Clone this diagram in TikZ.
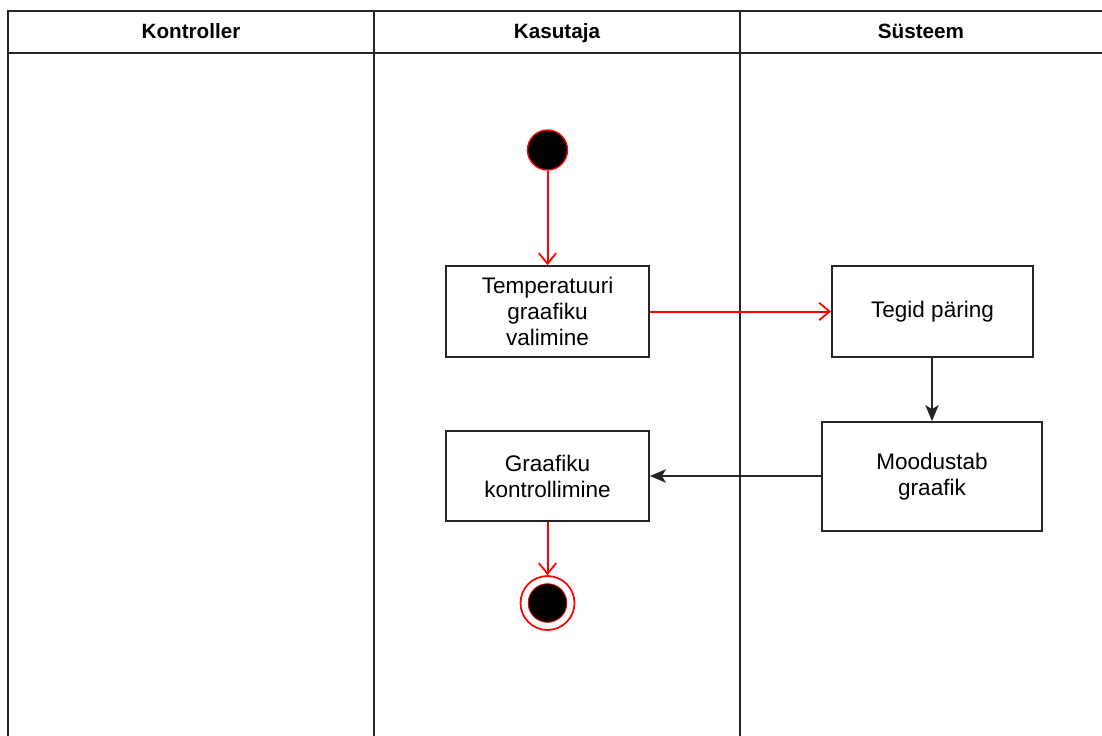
\documentclass[tikz,border=0pt]{standalone}
\usepackage{fontspec}
\setmainfont{Liberation Sans}
\usetikzlibrary{arrows.meta}
\begin{document}
\begin{tikzpicture}[x=0.75pt,y=-0.75pt,
  lane/.style={draw=black!85,line width=1.3pt},
  act/.style={draw=black!85,line width=1.3pt,fill=white,align=center,inner sep=0pt,
    font=\fontsize{16.9}{19.5}\selectfont},
  hdr/.style={anchor=base,font=\bfseries\fontsize{15.5}{19.5}\selectfont},
  redarr/.style={draw=red,line width=1.5pt,-{Straight Barb[length=8pt,width=13pt,line width=1.3pt]}},
  blkarr/.style={draw=black!85,line width=1.3pt,-{Stealth[length=12pt,width=10pt,inset=3pt]}},
  startst/.style={circle,fill=black,draw=red,line width=1pt,minimum size=30pt,inner sep=0pt},
  endo/.style={circle,draw=red,line width=1.3pt,minimum size=40.5pt,inner sep=0pt},
  endi/.style={circle,fill=black,draw=red,line width=0.6pt,minimum size=29pt,inner sep=0pt}]
\useasboundingbox (0,0) rectangle (1102,735);
\clip (0,0) rectangle (1102,735);
\fill[white] (0,0) rectangle (1102,735);
% pool
\draw[lane] (8,11) rectangle (374,760);
\draw[lane] (374,11) rectangle (740,760);
\draw[lane] (740,11) rectangle (1130,760);
\draw[lane] (8,53) -- (1130,53);
\node[hdr] (h1) at (191,39) {Kontroller};
\node[hdr] (h2) at (557,39) {Kasutaja};
\node[hdr] (h3) at (921,39) {Süsteem};
% nodes
\node[startst] (start) at (547.5,150) {};
\node[act,minimum width=152.25pt,minimum height=68.25pt] (a1) at (547.5,311.5) {Temperatuuri\\graafiku\\valimine};
\node[act,minimum width=150.75pt,minimum height=68.25pt] (a2) at (932.5,311.5) {Tegid päring};
\node[act,minimum width=165pt,minimum height=81.75pt] (a3) at (932,476.5) {Moodustab\\graafik};
\node[act,minimum width=152.25pt,minimum height=67.5pt] (a4) at (547.5,476) {Graafiku\\kontrollimine};
\node[endo] (endo) at (547.5,603) {};
\node[endi] (endi) at (547.5,603) {};
% edges
\draw[redarr] (start) -- (a1);
\draw[redarr] (a1.east |- 0,311.5) -- (a2.west |- 0,311.5);
\draw[blkarr] (a3.north |- a2.south) -- (a3.north);
\draw[blkarr] (a3.west |- 0,476) -- (a4.east |- 0,476);
\draw[redarr] (a4) -- (endo);
\end{tikzpicture}
\end{document}
